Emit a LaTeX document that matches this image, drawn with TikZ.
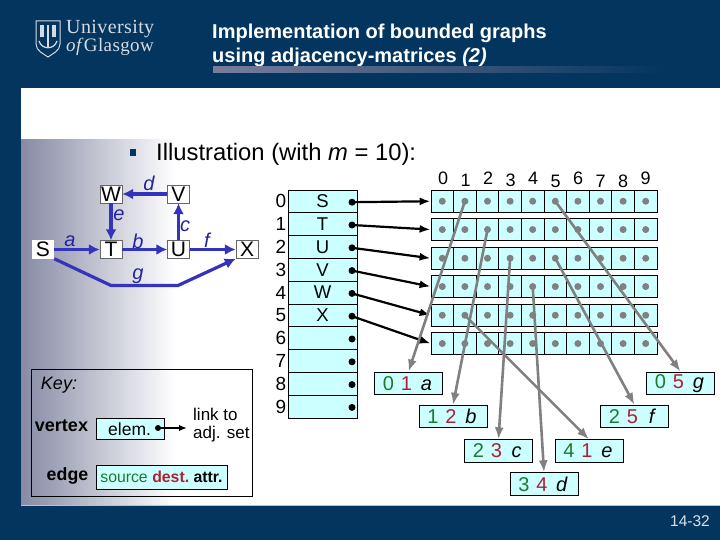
\documentclass[tikz,border=0pt]{standalone}
\usepackage{fontspec}
\setmainfont{Liberation Sans}
\newfontfamily\logofont[LetterSpace=2]{Liberation Serif}
\usetikzlibrary{arrows.meta}
\definecolor{navy}{HTML}{03355F}
\definecolor{pale}{HTML}{CCFFFF}
\definecolor{edgeblue}{HTML}{3333BB}
\definecolor{lblblue}{HTML}{24249A}
\definecolor{srcgreen}{HTML}{1B7A2B}
\definecolor{dstred}{HTML}{B02030}
\definecolor{lnk}{HTML}{808080}
\definecolor{logotxt}{HTML}{D5DBE3}
\newcommand{\px}[1]{\fontsize{#1bp}{#1bp}\selectfont}
\tikzset{
  x=1bp,y=-1bp,
  txt/.style={inner sep=0pt,font=\px{18}},
  vbox/.style={draw=black!60,fill=white,minimum width=22bp,minimum height=18bp,inner sep=0pt,font=\px{21}},
  garrow/.style={draw=edgeblue,line width=3.2bp,-{Latex[length=11bp,width=11bp]}},
  glabel/.style={inner sep=0pt,font=\px{20}\itshape,text=lblblue},
  cellbox/.style={draw=black,fill=pale,line width=0.8bp,minimum width=22.6bp,minimum height=22.5bp,inner sep=0pt},
  vrow/.style={draw=black,fill=pale,line width=0.8bp,minimum width=69bp,minimum height=22.8bp,inner sep=0pt,font=\px{18.5}},
  gdot/.style={circle,fill=lnk,minimum size=7bp,inner sep=0pt},
  bdot/.style={circle,fill=black,minimum size=7bp,inner sep=0pt},
  blink/.style={draw=black,line width=2.2bp,-{Latex[length=11bp,width=8bp]}},
  glink/.style={draw=lnk,line width=2.6bp,-{Latex[length=12bp,width=9bp]}},
  ebox/.style={draw=black,fill=pale,line width=0.8bp,minimum width=68bp,minimum height=22.5bp,inner sep=0pt,font=\px{20}},
}
\newcommand{\edgebox}[6]{\node[ebox] (#1) at (#2) {\makebox[18bp]{\textcolor{srcgreen}{#3}}\makebox[18bp]{\textcolor{dstred}{#4}}\makebox[22bp]{\textit{#5}}};}
\begin{document}
\begin{tikzpicture}
\useasboundingbox (0,0) rectangle (720,540);
% slide
\fill[navy] (0,0) rectangle (720,540);
\fill[white] (21,88) rectangle (720,505);
\shade[shading=axis,left color={rgb,255:red,134;green,138;blue,164},right color=white,shading angle=90] (21,140) rectangle (175,505);
\draw[white!70!navy,line width=0.8bp] (21,505.4) -- (720,505.4);
% logo
\draw[logotxt,line width=1bp] (36,21) -- (60,21) -- (60,44) .. controls (60,51) and (52,54) .. (48,57) .. controls (44,54) and (36,51) .. (36,44) -- cycle;
\fill[logotxt] (40,25) rectangle (44,37);
\fill[logotxt] (52,25) rectangle (56,37);
\fill[logotxt] (47,25) rectangle (49,48);
\draw[logotxt,line width=1.2bp] (39,41) .. controls (42,50) and (54,50) .. (57,41);
\node[anchor=base west,inner sep=0pt,text=logotxt,font=\logofont\px{20}] (logoa) at (66,34) {University};
\node[anchor=base west,inner sep=0pt,text=logotxt,font=\logofont\px{19}] (logob) at (66,52) {\textit{of}Glasgow};
% title
\node[anchor=base west,inner sep=0pt,text=white,font=\bfseries\px{20}] (t1) at (212,38.5) {Implementation of bounded graphs};
\node[anchor=base west,inner sep=0pt,text=white,font=\bfseries\px{20}] (t2) at (212,62.5) {using adjacency-matrices \textit{(2)}};
\shade[shading=axis,left color={rgb,255:red,122;green,125;blue,156},right color=navy,shading angle=90] (213,67) rectangle (665,73);
% bullet
\fill[navy] (130,149.5) rectangle (136,156);
\node[anchor=base west,inner sep=0pt,font=\px{23.8}] (ill) at (156,160.5) {Illustration (with \textit{m} = 10):};
% graph
\node[vbox] (W) at (111,194) {W};
\node[vbox] (V) at (178.5,194) {V};
\node[vbox,draw=none] (S) at (43,249.5) {S};
\node[vbox] (T) at (111,249.5) {T};
\node[vbox] (U) at (178.5,249.5) {U};
\node[vbox] (X) at (247,249.5) {X};
\draw[garrow] (V) -- (W);
\draw[garrow] (W) -- (T);
\draw[garrow] (S) -- (T);
\draw[garrow] (T) -- (U);
\draw[garrow] (U) -- (V);
\draw[garrow] (U) -- (X);
\coordinate (g1) at (111,285.5);
\coordinate (g2) at (178,285.5);
\draw[garrow,line join=round] (S.south east) -- (g1) -- (g2) -- (X.south west);
\node[glabel] (ld) at (149,183) {d};
\node[glabel] (le) at (119,215) {e};
\node[glabel] (la) at (70,241) {a};
\node[glabel] (lb) at (138,241) {b};
\node[glabel] (lc) at (185,226) {c};
\node[glabel] (lf) at (207,240) {f};
\node[glabel] (lg) at (138,276) {g};
% key
\node[draw=black,line width=0.8bp,minimum width=221bp,minimum height=127bp,inner sep=0pt] (key) at (141.5,432.5) {};
\node[txt,font=\px{18}\itshape] (keyl) at (59,385) {Key:};
\node[txt,font=\bfseries\px{18}] (kv) at (61.5,426) {vertex};
\node[draw=black,fill=pale,line width=0.8bp,minimum width=68bp,minimum height=21bp,inner sep=0pt] (kelem) at (130,428.5) {};
\node[txt,font=\px{17.5},anchor=west] (kel) at (108,429) {elem.};
\node[bdot,minimum size=6bp] (kdot) at (158,428) {};
\coordinate (kend) at (187,428);
\draw[draw=black,line width=1.8bp,-{Latex[length=8bp,width=6.5bp]}] (kdot.center) -- (kend);
\node[txt,font=\px{17},anchor=west,align=left] (klink) at (193,425) {link to\\[0.5bp]adj. set};
\node[txt,font=\bfseries\px{17.8}] (ke) at (67.5,476) {edge};
\node[draw=black,fill=pale,line width=0.8bp,minimum width=131bp,minimum height=24bp,inner sep=0pt,font=\px{15.8}] (kedge) at (161.5,477)
 {\textcolor{srcgreen}{source}\hspace{4.5bp}\textcolor{dstred}{\textbf{dest.}}\hspace{4.5bp}\textbf{attr.}};
% vertex table
\foreach \i/\lab in {0/S,1/T,2/U,3/V,4/W,5/X,6/,7/,8/,9/}{
  \pgfmathsetmacro{\yy}{201.4+22.8*\i}
  \node[vrow] (v\i) at (322.5,\yy) {\lab};
  \node[bdot] (vd\i) at (352,\yy+0.8) {};
  \node[txt,font=\px{19}] (n\i) at (281,\yy) {\i};
}
% cells
\foreach \r/\top in {0/190,1/218.3,2/247,3/275.3,4/304,5/332.3}{
  \foreach \c in {0,...,9}{
    \pgfmathsetmacro{\xx}{442.3+22.6*\c}
    \pgfmathsetmacro{\yy}{\top+11.25}
    \node[cellbox] (c\r-\c) at (\xx,\yy) {};
    \node[gdot] (d\r-\c) at (\xx,\yy) {};
  }
}
% column labels
\foreach \c/\yy in {0/178,1/180,2/178,3/180,4/178,5/181,6/178,7/181,8/181,9/178}{
  \pgfmathsetmacro{\xx}{443+22.5*\c}
  \node[txt,font=\px{18}] (h\c) at (\xx,\yy) {\c};
}
% vertex links
\foreach \i in {0,...,5}{
  \draw[blink] (vd\i.center) -- (c\i-0.west);
}
% edge boxes
\edgebox{e01}{408.5,383.2}{0}{1}{a}{}
\edgebox{e05}{680.5,383.2}{0}{5}{g}{}
\edgebox{e12}{453,416.5}{1}{2}{b}{}
\edgebox{e25}{634.5,416.5}{2}{5}{f}{}
\edgebox{e23}{498.5,451}{2}{3}{c}{}
\edgebox{e41}{589,451}{4}{1}{e}{}
\edgebox{e34}{544,484}{3}{4}{d}{}
% edge links
\draw[glink] (d0-1.center) -- (e01.north);
\draw[glink] (d0-5.center) -- (e05.north);
\draw[glink] (d1-2.center) -- (e12.north);
\draw[glink] (d2-3.center) -- (e23.north);
\draw[glink] (d2-5.center) -- (e25.north);
\draw[glink] (d3-4.center) -- (e34.north);
\draw[glink] (d4-1.center) -- (e41.north);
% page number
\node[txt,anchor=east,text=white!85!navy,font=\px{15.5}] (pg) at (710,521) {14-32};
\end{tikzpicture}
\end{document}
